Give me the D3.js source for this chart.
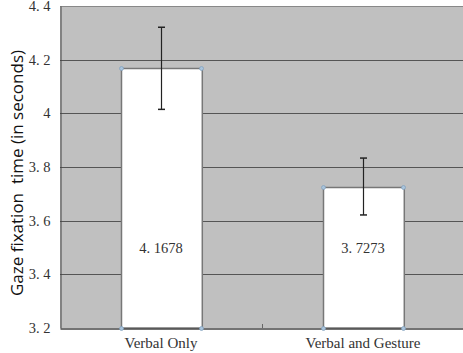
<!DOCTYPE html>
<html>
<head>
<meta charset="utf-8">
<script src="https://cdn.jsdelivr.net/npm/d3@7"></script>
<style>
  body { margin: 0; background: #fff; }
  .tick text { font-family: "Liberation Serif", serif; }
</style>
</head>
<body>
<div id="chart"></div>
<script>
// Data
const conditions = ["Verbal Only", "Verbal and Gesture"];
const means = [4.1678, 3.7273];
const errors = [0.153, 0.106];
const valueLabels = ["4. 1678", "3. 7273"];
const yTicks = [3.2, 3.4, 3.6, 3.8, 4.0, 4.2, 4.4];
const yTickLabels = ["3. 2", "3. 4", "3. 6", "3. 8", "4", "4. 2", "4. 4"];

const width = 463;
const height = 353;
const margin = { top: 6, right: -1, bottom: 25, left: 60 };

const svg = d3.select("#chart")
  .append("svg")
  .attr("width", width)
  .attr("height", height);

const x = d3.scaleBand()
  .domain(conditions)
  .range([margin.left, width - margin.right])
  .paddingInner(0.6)
  .paddingOuter(0.3);

const y = d3.scaleLinear()
  .domain([3.2, 4.4])
  .range([height - margin.bottom, margin.top]);

// plot background
svg.append("rect")
  .attr("x", margin.left)
  .attr("y", margin.top)
  .attr("width", width - margin.right - margin.left)
  .attr("height", y(3.2) - y(4.4))
  .attr("fill", "#c0c0c0");

// gridlines
svg.append("g")
  .selectAll("line")
  .data(yTicks.slice(1))
  .enter()
  .append("line")
  .attr("x1", margin.left)
  .attr("x2", width - margin.right)
  .attr("y1", d => Math.round(y(d)) + 0.5)
  .attr("y2", d => Math.round(y(d)) + 0.5)
  .attr("stroke", d => d === 4.4 ? "#888" : "#555")
  .attr("stroke-width", 1);

// Y axis
const yAxis = svg.append("g")
  .attr("transform", `translate(${margin.left + 0.5},0)`)
  .call(d3.axisLeft(y).tickValues(yTicks)
    .tickFormat((d, i) => yTickLabels[i]).tickSize(0).tickPadding(10));
yAxis.select(".domain").attr("stroke", "#444");
yAxis.selectAll("text").attr("font-size", 14.5).attr("fill", "#333");

// bars
svg.selectAll("rect.bar")
  .data(conditions)
  .enter()
  .append("rect")
  .attr("class", "bar")
  .attr("x", d => Math.round(x(d)) + 0.5)
  .attr("y", (d, i) => Math.round(y(means[i])) + 0.5)
  .attr("width", x.bandwidth())
  .attr("height", (d, i) => y(3.2) - Math.round(y(means[i])) - 0.5)
  .attr("fill", "#fff")
  .attr("stroke", "#777")
  .attr("stroke-width", 1.5);

// X axis
const xAxis = svg.append("g")
  .attr("transform", `translate(0,${Math.round(y(3.2)) + 0.5})`)
  .call(d3.axisBottom(x).tickSize(0).tickPadding(9));
xAxis.select(".domain").attr("stroke", "#444").attr("stroke-width", 1.5);
xAxis.selectAll("text").attr("font-size", 15).attr("fill", "#333");

// middle category separator tick
const midX = (x(conditions[0]) + x.bandwidth() + x(conditions[1])) / 2;
svg.append("line")
  .attr("x1", Math.round(midX) + 0.5)
  .attr("x2", Math.round(midX) + 0.5)
  .attr("y1", y(3.2))
  .attr("y2", y(3.2) - 4)
  .attr("stroke", "#666");

// corner markers
conditions.forEach((c, i) => {
  const pts = [
    [x(c), y(means[i])], [x(c) + x.bandwidth(), y(means[i])],
    [x(c), y(3.2)], [x(c) + x.bandwidth(), y(3.2)]
  ];
  svg.append("g").selectAll("circle")
    .data(pts)
    .enter()
    .append("circle")
    .attr("cx", d => Math.round(d[0]) + 0.5)
    .attr("cy", d => Math.round(d[1]) + 0.5)
    .attr("r", 2)
    .attr("fill", "#a9c4dc")
    .attr("stroke", "#7f9fbd")
    .attr("stroke-width", 0.7);
});

// error bars
const cap = 5;
conditions.forEach((c, i) => {
  const cx = Math.round(x(c) + x.bandwidth() / 2) + 0.5;
  const g = svg.append("g").attr("stroke", "#222").attr("stroke-width", 1.2);
  g.append("line")
    .attr("x1", cx).attr("x2", cx)
    .attr("y1", y(means[i] + errors[i])).attr("y2", y(means[i] - errors[i]));
  [means[i] + errors[i], means[i] - errors[i]].forEach(v => {
    g.append("line")
      .attr("x1", cx - cap / 2 - 1).attr("x2", cx + cap / 2 + 1)
      .attr("y1", y(v)).attr("y2", y(v))
      .attr("stroke-width", 1.5);
  });
});

// value labels
svg.selectAll("text.val")
  .data(conditions)
  .enter()
  .append("text")
  .attr("class", "val")
  .attr("x", d => x(d) + x.bandwidth() / 2)
  .attr("y", y(3.5) + 5)
  .attr("text-anchor", "middle")
  .attr("font-family", "Liberation Serif, serif")
  .attr("font-size", 14.5)
  .attr("fill", "#333")
  .text((d, i) => valueLabels[i]);

// Y axis title
svg.append("text")
  .attr("transform", `translate(23,${(margin.top + y(3.2)) / 2 + 6}) rotate(-90)`)
  .attr("text-anchor", "middle")
  .attr("font-family", "Open Sans, sans-serif")
  .attr("font-size", 17)
  .attr("fill", "#111")
  .style("white-space", "pre")
  .text("Gaze fixation  time (in seconds)");
</script>
</body>
</html>
